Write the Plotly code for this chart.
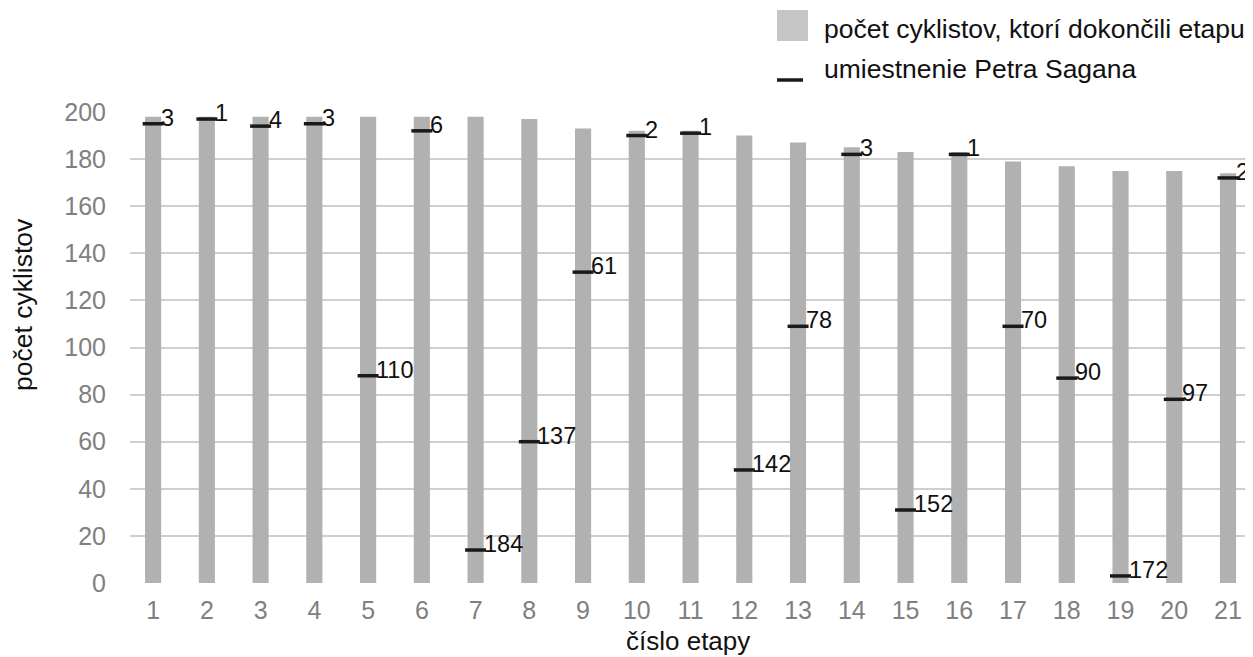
import plotly.graph_objects as go

stages = list(range(1, 22))
finishers = [198, 198, 198, 198, 198, 198, 198, 197, 193, 192, 192, 190, 187, 185, 183, 183, 179, 177, 175, 175, 174]
sagan_place = [3, 1, 4, 3, 110, 6, 184, 137, 61, 2, 1, 142, 78, 3, 152, 1, 70, 90, 172, 97, 2]
y_ticks = [0, 20, 40, 60, 80, 100, 120, 140, 160, 180, 200]

marker_y = [f - p for f, p in zip(finishers, sagan_place)]

FONT = "Liberation Sans, Arial, sans-serif"
TICK_GRAY = "#808080"
TXT = "#111111"

# the page body adds an 8px margin; lay out in page pixels and compensate
OFF = 8
W, H = 1253 - OFF, 657 - OFF
PL, PR, PT, PB = 130, 1253, 112, 583          # plot area in page pixels
L, T = PL - OFF, PT - OFF
R, B = (1253 - PR), (657 - PB)
PW, PH = PR - PL, PB - PT


def px(x):
    return (x - PL) / PW


def py(y):
    return (PB - y) / PH


fig = go.Figure()
fig.add_trace(go.Bar(
    x=stages, y=finishers, width=0.3,
    marker=dict(color="#B0B1B0", line=dict(width=0)),
    name="počet cyklistov, ktorí dokončili etapu",
    hoverinfo="x+y",
))
fig.add_trace(go.Scatter(
    x=stages, y=marker_y, mode="markers",
    marker=dict(symbol="line-ew", size=15, color="#1a1a1a",
                line=dict(width=3.5, color="#1a1a1a")),
    name="umiestnenie Petra Sagana",
    customdata=sagan_place,
    hovertemplate="%{customdata}<extra></extra>",
))

annotations = []
for s, my, p in zip(stages, marker_y, sagan_place):
    annotations.append(dict(
        x=s, y=my, xref="x", yref="y", text=str(p), showarrow=False,
        xanchor="left", yanchor="middle", xshift=6, yshift=6,
        font=dict(family=FONT, size=23.5, color=TXT),
    ))

# axis titles
annotations.append(dict(
    x=px(23), y=py(305), xref="paper", yref="paper", text="počet cyklistov",
    showarrow=False, textangle=-90, xanchor="center", yanchor="middle",
    font=dict(family=FONT, size=26.5, color=TXT),
))
annotations.append(dict(
    x=px(688), y=py(641), xref="paper", yref="paper", text="číslo etapy",
    showarrow=False, xanchor="center", yanchor="middle",
    font=dict(family=FONT, size=26, color=TXT),
))
# legend texts
annotations.append(dict(
    x=px(822), y=py(29), xref="paper", yref="paper",
    text="počet cyklistov, ktorí dokončili etapu",
    showarrow=False, xanchor="left", yanchor="middle",
    font=dict(family=FONT, size=26.5, color=TXT),
))
annotations.append(dict(
    x=px(822), y=py(69), xref="paper", yref="paper",
    text="umiestnenie Petra Sagana",
    showarrow=False, xanchor="left", yanchor="middle",
    font=dict(family=FONT, size=26.5, color=TXT),
))

shapes = [
    dict(type="rect", xref="paper", yref="paper",
         x0=px(777), x1=px(808), y0=py(41), y1=py(10),
         fillcolor="#C6C6C6", line=dict(width=0)),
    dict(type="line", xref="paper", yref="paper",
         x0=px(777), x1=px(803), y0=py(80), y1=py(80),
         line=dict(color="#1a1a1a", width=3.5)),
]

fig.update_layout(
    width=W, height=H,
    margin=dict(l=L, r=R, t=T, b=B, pad=0, autoexpand=False),
    paper_bgcolor="white", plot_bgcolor="white",
    showlegend=False,
    annotations=annotations, shapes=shapes,
    font=dict(family=FONT),
)
fig.update_xaxes(
    range=[0.57, 21.465], tickmode="array", tickvals=stages,
    ticktext=[str(s) for s in stages],
    tickfont=dict(family=FONT, size=25, color=TICK_GRAY),
    showgrid=False, zeroline=False, showline=False, ticks="",
    ticklabelstandoff=10, automargin=False,
)
fig.update_yaxes(
    range=[0, 200], tickmode="array", tickvals=y_ticks,
    tickfont=dict(family=FONT, size=25, color=TICK_GRAY),
    showgrid=True, gridcolor="#CFCFCF", gridwidth=1.5,
    zeroline=False, showline=False, ticks="",
    ticklabelstandoff=23, automargin=False,
)

fig.write_html("out.html")
